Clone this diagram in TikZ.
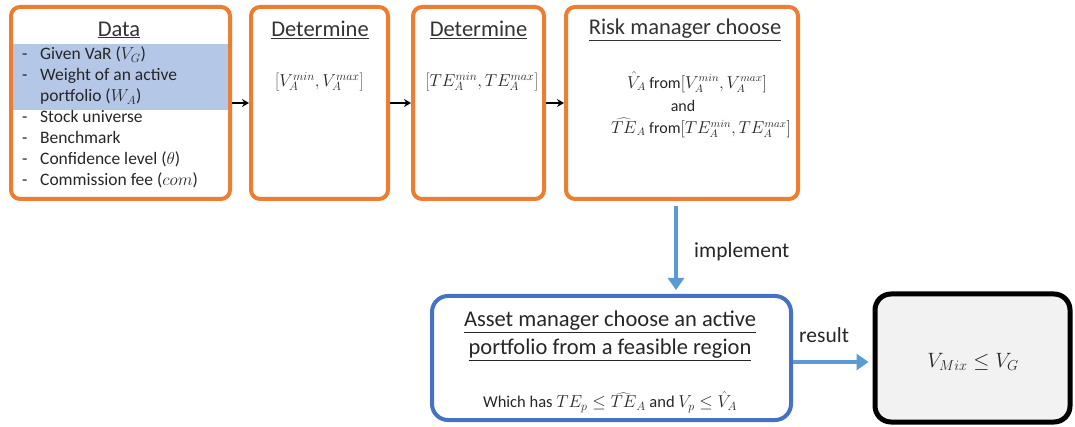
\documentclass[tikz,border=0pt]{standalone}
\usepackage{fontspec}
\setmainfont{Carlito}
\usetikzlibrary{arrows.meta}
\definecolor{orng}{HTML}{ED7D31}
\definecolor{bluebox}{HTML}{4472C4}
\definecolor{bluearrow}{HTML}{5B9BD5}
\definecolor{hilite}{HTML}{B4C7E7}
\definecolor{lightgray}{HTML}{F2F2F2}
\begin{document}
\begin{tikzpicture}[x=1pt,y=-1pt,
  obox/.style={draw=orng, line width=4pt, rounded corners=9pt, minimum height=192pt, inner sep=0pt},
  title/.style={font=\fontsize{22.5}{26}\selectfont, text=black!80, inner sep=0pt},
  body/.style={font=\fontsize{16}{19}\selectfont, text=black!85, align=center, inner sep=0pt},
  blkarrow/.style={-{Stealth[length=7pt,width=8pt]}, line width=2.5pt, black},
  bluarrow/.style={-{Triangle[length=12pt,width=16pt]}, line width=3.5pt, bluearrow},
  lbl/.style={font=\fontsize{21.5}{24}\selectfont, text=black!85, inner sep=0pt}
]
\useasboundingbox (0,0) rectangle (1075,427);
% highlight in Data box
\fill[hilite] (13,44) rectangle (228,110);
% boxes
\node[obox, minimum width=219pt] (data) at (120.5,103) {};
\node[obox, minimum width=137pt] (det1) at (319.5,103) {};
\node[obox, minimum width=131pt] (det2) at (478.5,103) {};
\node[obox, minimum width=232pt] (risk) at (682,103) {};
\node[draw=bluebox, line width=4pt, rounded corners=16pt, minimum width=359pt, minimum height=124pt, inner sep=0pt] (asset) at (611.5,358) {};
\node[draw=black, fill=lightgray, line width=5pt, rounded corners=16pt, minimum width=195pt, minimum height=128pt, inner sep=0pt] (result) at (972.5,358) {};
% titles
\node[title] (tdata) at (119,30) {\underline{Data}};
\node[title] (tdet1) at (320,30) {\underline{Determine}};
\node[title] (tdet2) at (478.5,30) {\underline{Determine}};
\node[title] (trisk) at (685,30) {\underline{Risk manager choose}};
% data list
\node[anchor=north west, inner sep=0pt, text=black!85] (list) at (22,45) {%
  \fontsize{17.5}{21}\selectfont
  \begin{tabular}{@{}p{18pt}@{}l@{}}
  - & Given VaR ($V_G$)\\
  - & Weight of an active\\
    & portfolio ($W_A$)\\
  - & Stock universe\\
  - & Benchmark\\
  - & Confidence level ($\theta$)\\
  - & Commission fee ($com$)
  \end{tabular}};
% determine contents
\node[body, font=\fontsize{18}{21}\selectfont] (v1) at (319.5,82) {$\left[V_A^{min},V_A^{max}\right]$};
\node[body, font=\fontsize{18}{21}\selectfont] (v2) at (482,82) {$\left[TE_A^{min},TE_A^{max}\right]$};
\node[body] (r1) at (697,82) {$\hat{V}_A$ from$\left[V_A^{min},V_A^{max}\right]$};
\node[body] (r2) at (683,106) {and};
\node[body] (r3) at (701,128) {$\widehat{TE}_A$ from$\left[TE_A^{min},TE_A^{max}\right]$};
% asset contents
\node[body, font=\fontsize{22.5}{28}\selectfont] (a1) at (610,336) {\underline{Asset manager choose an active}\\\underline{portfolio from a feasible region}};
\node[body, font=\fontsize{16.5}{19}\selectfont] (a2) at (610,402) {Which has $TE_p \le \widehat{TE}_A$ and $V_p \le \hat{V}_A$};
% result contents
\node[body, font=\fontsize{22}{26}\selectfont] (res) at (973,362) {$V_{Mix} \le V_G$};
% connectors
\draw[blkarrow] (data.east) -- (det1.west);
\draw[blkarrow] (det1.east) -- (det2.west);
\draw[blkarrow] (det2.east) -- (risk.west);
\draw[bluarrow, shorten <=5pt, shorten >=4pt] ([xshift=-6pt]risk.south) -- ([xshift=-6pt]risk.south |- asset.north);
\node[lbl, anchor=west] (limp) at (694,252) {implement};
\draw[bluarrow, shorten >=4pt] (asset.east |- res) -- (result.west |- res);
\node[lbl, anchor=west] (lres) at (799,335) {result};
\end{tikzpicture}
\end{document}
